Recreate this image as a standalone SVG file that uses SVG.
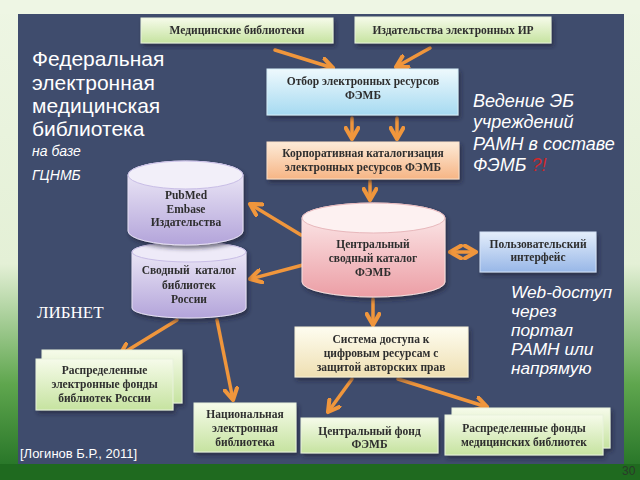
<svg xmlns="http://www.w3.org/2000/svg" width="640" height="480" viewBox="0 0 640 480">
<defs>
<linearGradient id="side" x1="0" y1="0" x2="0" y2="1">
<stop offset="0" stop-color="#eef6e4"/><stop offset="0.55" stop-color="#e4f0d6"/><stop offset="0.8" stop-color="#5fa64e"/><stop offset="1" stop-color="#1f6e22"/>
</linearGradient>
<linearGradient id="gGreen" x1="0" y1="0" x2="0" y2="1"><stop offset="0" stop-color="#f6fbea"/><stop offset="1" stop-color="#c6e3a0"/></linearGradient>
<linearGradient id="gBlue" x1="0" y1="0" x2="0" y2="1"><stop offset="0" stop-color="#eef9fd"/><stop offset="1" stop-color="#a6daf1"/></linearGradient>
<linearGradient id="gPeach" x1="0" y1="0" x2="0" y2="1"><stop offset="0" stop-color="#fdebd8"/><stop offset="1" stop-color="#f6b585"/></linearGradient>
<linearGradient id="gPurple" x1="0" y1="0" x2="0" y2="1"><stop offset="0" stop-color="#f3f0fa"/><stop offset="1" stop-color="#b3a4da"/></linearGradient>
<linearGradient id="gPink" x1="0" y1="0" x2="0" y2="1"><stop offset="0" stop-color="#fdf0f0"/><stop offset="1" stop-color="#ec9ea5"/></linearGradient>
<linearGradient id="gUser" x1="0" y1="0" x2="0" y2="1"><stop offset="0" stop-color="#e4eefb"/><stop offset="1" stop-color="#98b7e7"/></linearGradient>
<linearGradient id="gCream" x1="0" y1="0" x2="0" y2="1"><stop offset="0" stop-color="#fefdf0"/><stop offset="1" stop-color="#efdfb2"/></linearGradient>
<filter id="sh" x="-10%" y="-10%" width="125%" height="135%"><feDropShadow dx="2" dy="3" stdDeviation="2" flood-color="#1a2030" flood-opacity="0.6"/></filter>
<marker id="ah" viewBox="0 0 10 10" refX="8" refY="5" markerWidth="4.5" markerHeight="4.5" orient="auto-start-reverse" markerUnits="strokeWidth">
<path d="M1,1 L8,5 L1,9" fill="none" stroke="#f0963c" stroke-width="2.6" stroke-linecap="round" stroke-linejoin="round"/>
</marker>
</defs>
<style>
.lbl{font-family:"Liberation Serif","DejaVu Serif",serif;font-weight:bold;font-size:11.5px;fill:#2e2e2e;text-anchor:middle}
.w{font-family:"Liberation Sans",Arial,sans-serif;fill:#fff}
.it{font-style:italic}
.cn{fill:none;stroke:#f0963c;stroke-width:3.5;stroke-linecap:round;marker-end:url(#ah)}
.bx{stroke:#e8f2dc;stroke-width:1}
</style>
<rect x="0" y="0" width="640" height="480" fill="url(#side)"/>
<rect x="0" y="0" width="640" height="14" fill="#eef6e4"/>
<rect x="0" y="464" width="640" height="16" fill="#1f6a1f"/>
<rect x="18" y="14" width="606" height="450" fill="#3f4c6d"/>

<g id="title" class="w">
<text x="32" y="66" font-size="21">Федеральная</text>
<text x="32" y="90" font-size="21">электронная</text>
<text x="32" y="113" font-size="21">медицинская</text>
<text x="32" y="136" font-size="21">библиотека</text>
<text x="32" y="156" font-size="14" class="it">на базе</text>
<text x="32" y="180" font-size="14" class="it">ГЦНМБ</text>
</g>
<g id="note1" class="w it" font-size="18">
<text x="473" y="107">Ведение ЭБ</text>
<text x="473" y="128">учреждений</text>
<text x="473" y="150">РАМН в составе</text>
<text x="473" y="171">ФЭМБ <tspan fill="#d0282a">?!</tspan></text>
</g>
<g id="note2" class="w it" font-size="17.3">
<text x="511" y="298">Web-доступ</text>
<text x="511" y="317">через</text>
<text x="511" y="336">портал</text>
<text x="511" y="355">РАМН или</text>
<text x="511" y="374">напрямую</text>
</g>
<text x="37" y="318" font-family="'Liberation Serif',serif" font-size="17" fill="#fff">ЛИБНЕТ</text>
<text x="20" y="458" class="w" font-size="13">[Логинов Б.Р., 2011]</text>
<text x="622" y="475" font-family="'Liberation Sans',Arial,sans-serif" font-size="12" fill="#2a3a2a">30</text>

<g id="connectors">
<line class="cn" x1="275" y1="50" x2="333" y2="68"/>
<line class="cn" x1="430" y1="48" x2="396" y2="67"/>
<line class="cn" x1="352" y1="118" x2="352" y2="139"/>
<line class="cn" x1="397" y1="118" x2="397" y2="139"/>
<line class="cn" x1="370" y1="181" x2="370" y2="200"/>
<line class="cn" x1="301" y1="235" x2="250" y2="204"/>
<line class="cn" x1="303" y1="265" x2="250" y2="279"/>
<line class="cn" x1="450" y1="252" x2="476" y2="252" marker-start="url(#ah)"/>
<line class="cn" x1="373" y1="299" x2="373" y2="325"/>
<line class="cn" x1="177" y1="320" x2="120" y2="355"/>
<line class="cn" x1="217" y1="320" x2="233" y2="400"/>
<line class="cn" x1="352" y1="379" x2="328" y2="412"/>
<line class="cn" x1="398" y1="379" x2="487" y2="407"/>
</g>

<g id="n_med" filter="url(#sh)">
<rect class="bx" x="141" y="18" width="192" height="25" fill="url(#gGreen)"/>
<text class="lbl" x="237" y="34">Медицинские библиотеки</text>
</g>
<g id="n_izd" filter="url(#sh)">
<rect class="bx" x="355" y="17" width="196" height="26" fill="url(#gGreen)"/>
<text class="lbl" x="453" y="34">Издательства электронных ИР</text>
</g>
<g id="n_otbor" filter="url(#sh)">
<rect x="267" y="69" width="191" height="46" fill="url(#gBlue)" stroke="#d6eef8"/>
<text class="lbl" x="363" y="85">Отбор электронных ресурсов</text>
<text class="lbl" x="363" y="99">ФЭМБ</text>
</g>
<g id="n_korp" filter="url(#sh)">
<rect x="267" y="142" width="192" height="37" fill="url(#gPeach)" stroke="#fbe0c8"/>
<text class="lbl" x="363" y="157">Корпоративная каталогизация</text>
<text class="lbl" x="363" y="171">электронных ресурсов ФЭМБ</text>
</g>
<g id="n_svod" filter="url(#sh)">
<path d="M132,252 L132,308 A57,10 0 0 0 246,308 L246,252 A57,10 0 0 0 132,252 Z" fill="url(#gPurple)" stroke="#e6e0f4"/>
<ellipse cx="189" cy="252" rx="57" ry="10" fill="#eeeaf8" stroke="#c8bde6"/>
<text class="lbl" x="189" y="274" xml:space="preserve">Сводный  каталог</text>
<text class="lbl" x="189" y="289">библиотек</text>
<text class="lbl" x="189" y="303">России</text>
</g>
<g id="n_pubmed" filter="url(#sh)">
<path d="M128,175 L128,231 A57.5,14 0 0 0 243,231 L243,175 A57.5,14 0 0 0 128,175 Z" fill="url(#gPurple)" stroke="#e6e0f4"/>
<ellipse cx="185.5" cy="175" rx="57.5" ry="14" fill="#f2eff9" stroke="#c8bde6"/>
<text class="lbl" x="186" y="199">PubMed</text>
<text class="lbl" x="186" y="213">Embase</text>
<text class="lbl" x="186" y="226">Издательства</text>
</g>
<g id="n_central" filter="url(#sh)">
<path d="M302,218 L302,282 A71.5,15 0 0 0 445,282 L445,218 A71.5,15 0 0 0 302,218 Z" fill="url(#gPink)" stroke="#f8e0e0"/>
<ellipse cx="373.5" cy="218" rx="71.5" ry="15" fill="#fdf1f1" stroke="#e8b8bc"/>
<text class="lbl" x="373" y="248">Центральный</text>
<text class="lbl" x="373" y="262">сводный каталог</text>
<text class="lbl" x="373" y="276">ФЭМБ</text>
</g>
<g id="n_user" filter="url(#sh)">
<rect x="480" y="232" width="116" height="40" fill="url(#gUser)" stroke="#d4e2f6"/>
<text class="lbl" x="538" y="248">Пользовательский</text>
<text class="lbl" x="538" y="261">интерфейс</text>
</g>
<g id="n_sistema" filter="url(#sh)">
<rect x="295" y="327" width="173" height="50" fill="url(#gCream)" stroke="#f6f0d8"/>
<text class="lbl" x="381" y="343">Система доступа к</text>
<text class="lbl" x="381" y="357">цифровым ресурсам с</text>
<text class="lbl" x="381" y="371">защитой авторских прав</text>
</g>
<g id="n_raspr_ros" filter="url(#sh)">
<rect class="bx" x="42" y="350" width="140" height="53" fill="url(#gGreen)"/>
<rect class="bx" x="36" y="359" width="137" height="51" fill="url(#gGreen)"/>
<text class="lbl" x="104.5" y="374">Распределенные</text>
<text class="lbl" x="104.5" y="388">электронные фонды</text>
<text class="lbl" x="104.5" y="402">библиотек России</text>
</g>
<g id="n_nats" filter="url(#sh)">
<rect class="bx" x="194" y="403" width="102" height="49" fill="url(#gGreen)"/>
<text class="lbl" x="245" y="418">Национальная</text>
<text class="lbl" x="245" y="432">электронная</text>
<text class="lbl" x="245" y="446">библиотека</text>
</g>
<g id="n_centfond" filter="url(#sh)">
<rect class="bx" x="301" y="418" width="137" height="35" fill="url(#gGreen)"/>
<text class="lbl" x="369.5" y="435">Центральный фонд</text>
<text class="lbl" x="369.5" y="448">ФЭМБ</text>
</g>
<g id="n_raspr_med" filter="url(#sh)">
<rect class="bx" x="452" y="408" width="158" height="40" fill="url(#gGreen)"/>
<rect class="bx" x="445" y="415" width="158" height="40" fill="url(#gGreen)"/>
<text class="lbl" x="524" y="432">Распределенные фонды</text>
<text class="lbl" x="524" y="446">медицинских библиотек</text>
</g>
</svg>
